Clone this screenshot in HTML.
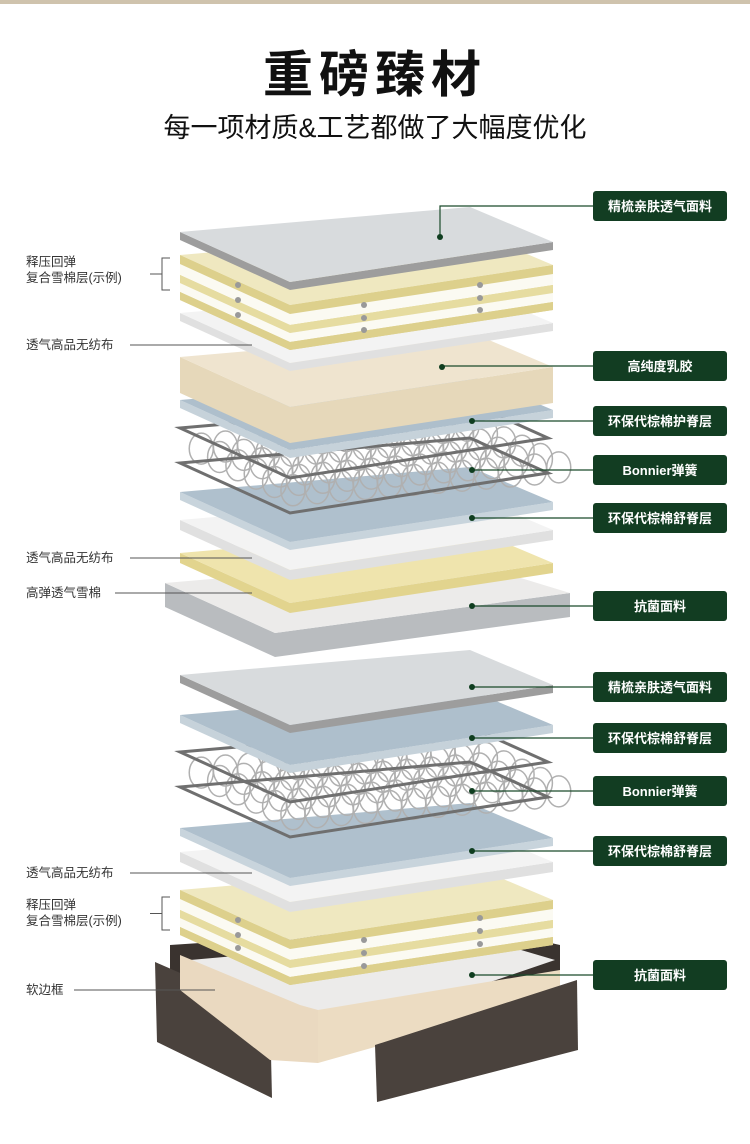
<!DOCTYPE html>
<html><head><meta charset="utf-8"><style>
html,body{margin:0;padding:0;background:#fff;width:750px;height:1144px;overflow:hidden}
</style></head><body>
<svg id="s" width="750" height="1144" xmlns="http://www.w3.org/2000/svg" font-family="Liberation Sans, Noto Sans CJK SC, sans-serif">
<rect x="0" y="0" width="750" height="4" fill="#cfc3ad"/>
<text x="375" y="92" text-anchor="middle" font-size="50" font-weight="bold" fill="#111" letter-spacing="6" font-family="Noto Sans CJK SC, sans-serif">重磅臻材</text>
<text x="375" y="137" text-anchor="middle" font-size="27" fill="#111" font-family="Liberation Sans, Noto Sans CJK SC, sans-serif">每一项材质&amp;工艺都做了大幅度优化</text>
<g id="L"></g>
<g id="T"></g>
</svg>
<script>
var L=document.getElementById('L'),T=document.getElementById('T'),NS='http://www.w3.org/2000/svg';
function el(p,tag,at,txt){var e=document.createElementNS(NS,tag);for(var k in at)e.setAttribute(k,at[k]);if(txt)e.textContent=txt;p.appendChild(e);return e;}
function pts(a){return a.map(function(p){return p.join(',')}).join(' ')}
function layer(a,t,top,side,x0,x1,stripes,stroke){
 x0=x0||180;x1=x1||553;
 var A=[x0,a],B=[x0+290,a-25],C=[x1,a+10],D=[x0+110,a+50];
 var sp=[A,D,C,[C[0],C[1]+t],[D[0],D[1]+t],[A[0],A[1]+t]];
 el(L,'polygon',{points:pts(sp),fill:side});
 if(stripes){var y=0;stripes.forEach(function(s){
   el(L,'polygon',{points:pts([[A[0],A[1]+y],[D[0],D[1]+y],[C[0],C[1]+y],[C[0],C[1]+y+s[0]],[D[0],D[1]+y+s[0]],[A[0],A[1]+y+s[0]]]),fill:s[1]});y+=s[0];});}
 el(L,'polygon',{points:pts([A,B,C,D]),fill:top,stroke:stroke||'none','stroke-width':1});
}
function springs(a,t){
 var A=[180,a],B=[470,a-25],C=[548,a+10],D=[290,a+50];
 for(var i=0;i<12;i++)for(var j=0;j<6;j++){
  var u=(i+0.5)/12,v=(j+0.5)/6;
  var x=A[0]+(B[0]-A[0])*u+(D[0]-A[0])*v, y=A[1]+(B[1]-A[1])*u+(D[1]-A[1])*v;
  el(L,'ellipse',{cx:x,cy:y+t/2,rx:12,ry:t/2-2,fill:'none',stroke:'#b0b0b0','stroke-width':1.5});
 }
 for(var k=0;k<=1;k++){var o=k*t;
  el(L,'polygon',{points:pts([[A[0],A[1]+o],[B[0],B[1]+o],[C[0],C[1]+o],[D[0],D[1]+o]]),fill:'none',stroke:'#6f6f6f','stroke-width':3});}
}
var Y='#efe8c0',YS='#ddd08c',W='#f3f3f3',WS='#e0e0e0';
var comp=[[9,YS],[11,'#fbfaf2'],[8,'#e6dca0'],[9,'#fbfaf2'],[8,YS]];
layer(583,24,'#ecebea','#b9bcbf',165,570);
layer(553,10,'#efe4ad','#e2d48e');
layer(520,10,W,WS);
layer(492,8,'#afc0cd','#c8d4dc');
springs(428,35);
layer(400,8,'#aebfcc','#c6d2da');
layer(357,36,'#efe4cf','#e6d8ba');
layer(313,8,W,WS);
layer(255,45,Y,YS,null,null,comp);
layer(232,8,'#d8dbdd','#9d9d9d');
el(L,'polygon',{points:'170,945 470,925 560,945 560,990 320,1050 170,985',fill:'#3a332f'});
el(L,'polygon',{points:'190,960 470,935 555,960 320,1040 190,990',fill:'#ecebea'});
el(L,'polygon',{points:'155,962 270,1012 272,1098 157,1042',fill:'#4a423d'});
el(L,'polygon',{points:'180,955 300,1005 318,1010 318,1063 270,1060 180,990',fill:'#ead9c0'});
el(L,'polygon',{points:'318,1010 560,970 560,995 318,1063',fill:'#ecdcc2'});
el(L,'polygon',{points:'375,1045 577,980 578,1050 377,1102',fill:'#4a423d'});
layer(890,45,Y,YS,null,null,comp);
layer(852,10,W,WS);
layer(828,8,'#afc0cd','#c8d4dc');
springs(752,35);
layer(715,8,'#aebfcc','#c6d2da');
layer(675,8,'#d8dbdd','#9d9d9d');
[[238,285],[238,300],[238,315],[364,305],[364,318],[364,330],[480,285],[480,298],[480,310],[238,920],[238,935],[238,948],[364,940],[364,953],[364,966],[480,918],[480,931],[480,944]].forEach(function(d){el(L,'circle',{cx:d[0],cy:d[1],r:3,fill:'#999'});});
var R=[[206,'精梳亲肤透气面料',440,237],[366,'高纯度乳胶',442,367],[421,'环保代棕棉护脊层',472,421],[470,'Bonnier弹簧',472,470],[518,'环保代棕棉舒脊层',472,518],[606,'抗菌面料',472,606],[687,'精梳亲肤透气面料',472,687],[738,'环保代棕棉舒脊层',472,738],[791,'Bonnier弹簧',472,791],[851,'环保代棕棉舒脊层',472,851],[975,'抗菌面料',472,975]];
R.forEach(function(r){
 var y=r[0];
 el(T,'polyline',{points:pts(r[3]!=y?[[593,y],[r[2],y],[r[2],r[3]]]:[[593,y],[r[2],y]]),fill:'none',stroke:'#1a4a2a','stroke-width':1.2});
 el(T,'circle',{cx:r[2],cy:r[3],r:3,fill:'#0f3d1f'});
 el(T,'rect',{x:593,y:y-15,width:134,height:30,rx:3,fill:'#123d22'});
 el(T,'text',{x:660,y:y+5,'text-anchor':'middle','font-size':13,'font-weight':'bold',fill:'#fff'},r[1]);
});
var G=[[[266,'释压回弹'],[282,'复合雪棉层(示例)']],[[349,'透气高品无纺布']],[[562,'透气高品无纺布']],[[597,'高弹透气雪棉']],[[877,'透气高品无纺布']],[[909,'释压回弹'],[925,'复合雪棉层(示例)']],[[994,'软边框']]];
G.forEach(function(g){g.forEach(function(t){el(T,'text',{x:26,y:t[0],'font-size':12.5,fill:'#333'},t[1]);});});
[[345,130,252],[558,130,252],[593,115,252],[873,130,252],[990,74,215]].forEach(function(l){el(T,'line',{x1:l[1],y1:l[0],x2:l[2],y2:l[0],stroke:'#555','stroke-width':1});});
[[258,290],[897,930]].forEach(function(b){el(T,'polyline',{points:pts([[170,b[0]],[162,b[0]],[162,b[1]],[170,b[1]]]),fill:'none',stroke:'#555','stroke-width':1});el(T,'line',{x1:150,y1:(b[0]+b[1])/2,x2:162,y2:(b[0]+b[1])/2,stroke:'#555'});});
</script>
</body></html>
